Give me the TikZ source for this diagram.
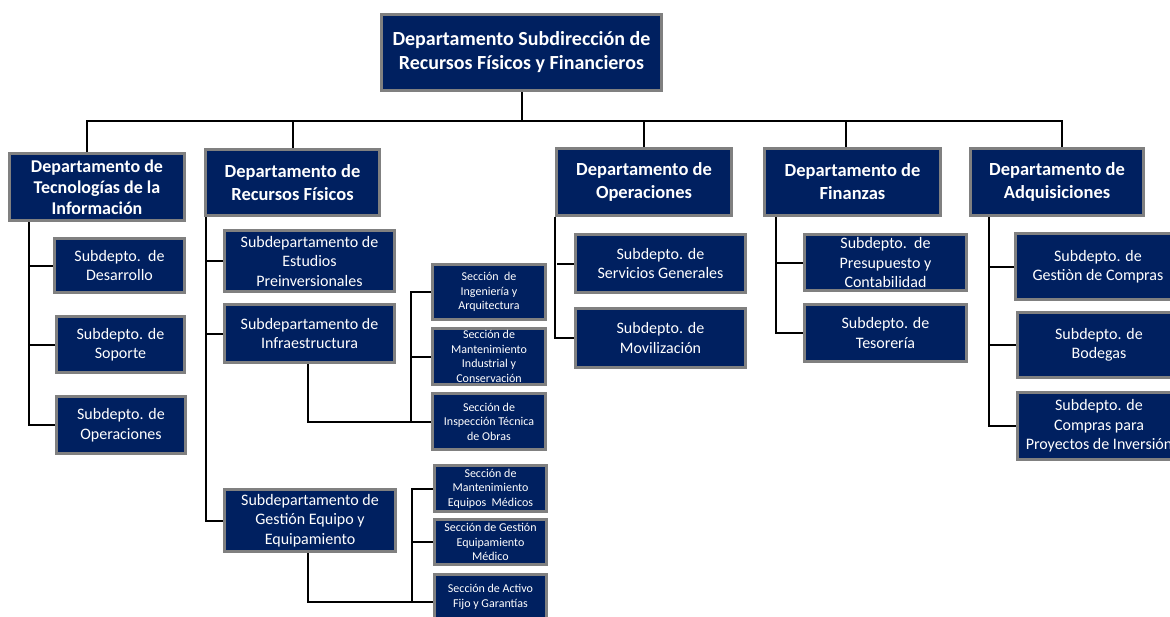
\documentclass[tikz,border=0pt]{standalone}
\usepackage{fontspec}
\setmainfont{Carlito}
\definecolor{navy}{RGB}{0,32,96}
\definecolor{bordergray}{RGB}{128,128,128}
\begin{document}
\begin{tikzpicture}[x=1pt,y=-1pt,
  box/.style={draw=bordergray, line width=3pt, fill=navy, text=white, align=center, inner sep=0pt, anchor=center},
  topf/.style={font=\fontsize{20}{24}\selectfont\bfseries},
  lonef/.style={font=\fontsize{18.5}{23}\selectfont\bfseries},
  subf/.style={font=\fontsize{16}{19.5}\selectfont},
  secf/.style={font=\fontsize{12}{14.5}\selectfont},
  conn/.style={draw=black, line width=2pt}]
\useasboundingbox (0,0) rectangle (1170,616);
% top
\node[box,topf,minimum width=280pt,minimum height=76pt] (top) at (521.5,52.5) {Departamento Subdirección de\\Recursos Físicos y Financieros};
% level 1
\node[box,font=\fontsize{18}{21}\selectfont\bfseries,minimum width=175pt,minimum height=67pt] (tec) at (97,187) {Departamento de\\Tecnologías de la\\Información};
\node[box,lonef,minimum width=174pt,minimum height=66pt] (rec) at (292.5,182.5) {Departamento de\\Recursos Físicos};
\node[box,lonef,minimum width=175pt,minimum height=67pt] (ope) at (644,182) {Departamento de\\Operaciones};
\node[box,lonef,minimum width=176pt,minimum height=67pt] (fin) at (852.5,182) {Departamento de\\Finanzas};
\node[box,lonef,minimum width=173pt,minimum height=67pt] (adq) at (1057,182) {Departamento de\\Adquisiciones};
% Tec children
\node[box,subf,minimum width=130pt,minimum height=54pt] (dev) at (119.5,265.5) {Subdepto.\ \ de\\Desarrollo};
\node[box,subf,minimum width=128pt,minimum height=56pt] (sop) at (120.5,344.5) {Subdepto. de\\Soporte};
\node[box,subf,minimum width=129pt,minimum height=57pt] (opt) at (121,425) {Subdepto. de\\Operaciones};
% Recursos children
\node[box,subf,minimum width=170pt,minimum height=61pt] (est) at (309.5,261) {Subdepartamento de\\Estudios\\Preinversionales};
\node[box,subf,minimum width=170pt,minimum height=58pt] (inf) at (309.5,333.5) {Subdepartamento de\\Infraestructura};
\node[box,subf,minimum width=171pt,minimum height=62pt] (geq) at (310,520.5) {Subdepartamento de\\Gestión Equipo y\\Equipamiento};
% Sections
\node[box,secf,minimum width=113pt,minimum height=55pt] (s1) at (489,292) {Sección\ \ de\\Ingeniería y\\Arquitectura};
\node[box,secf,minimum width=113pt,minimum height=56pt] (s2) at (489,356.5) {Sección de\\Mantenimiento\\Industrial y\\Conservación};
\node[box,secf,minimum width=113pt,minimum height=56pt] (s3) at (489,421.5) {Sección de\\Inspección Técnica\\de Obras};
\node[box,secf,minimum width=112pt,minimum height=46pt] (s4) at (490.5,488.5) {Sección de\\Mantenimiento\\Equipos\ \ Médicos};
\node[box,secf,minimum width=112pt,minimum height=45pt] (s5) at (490.5,542) {Sección de Gestión\\Equipamiento\\Médico};
\node[box,secf,minimum width=112pt,minimum height=45pt] (s6) at (490.5,597) {Sección de Activo\\Fijo y Garantías};
% Operaciones children
\node[box,subf,minimum width=170pt,minimum height=58pt] (sg) at (660.5,263.5) {Subdepto. de\\Servicios Generales};
\node[box,subf,minimum width=170pt,minimum height=59pt] (mov) at (660.5,338) {Subdepto. de\\Movilización};
% Finanzas children
\node[box,subf,minimum width=162pt,minimum height=56pt] (pre) at (885.5,262.5) {Subdepto.\ \ de\\Presupuesto y\\Contabilidad};
\node[box,subf,minimum width=162pt,minimum height=57pt] (tes) at (885.5,333) {Subdepto. de\\Tesorería};
% Adquisiciones children
\node[box,subf,minimum width=165pt,minimum height=66pt] (gc) at (1098,266.5) {Subdepto. de\\Gestiòn de Compras};
\node[box,subf,minimum width=163pt,minimum height=65pt] (bod) at (1099,345) {Subdepto. de\\Bodegas};
\node[box,subf,minimum width=163pt,minimum height=67pt] (cpp) at (1099,426) {Subdepto. de\\Compras para\\Proyectos de Inversión};
% bus
\coordinate (bus) at (521.5,121);
\draw[conn] (top.south) -- (bus);
\draw[conn] (tec.north -| 87,0) |- (bus);
\draw[conn] (adq.north -| 1062,0) |- (bus);
\draw[conn] (rec.north) -- (rec.north |- bus);
\draw[conn] (ope.north) -- (ope.north |- bus);
\draw[conn] (fin.north -| 846,0) -- (846,121);
% Tec spine
\draw[conn] ([xshift=21pt]tec.south west) |- (opt.west);
\draw[conn] (dev.west) -- (dev.west -| 29,0);
\draw[conn] (sop.west) -- (sop.west -| 29,0);
% Recursos spine
\draw[conn] ([xshift=2pt]rec.south west) |- (geq.west);
\draw[conn] (est.west) -- (est.west -| 207,0);
\draw[conn] (inf.west) -- (inf.west -| 207,0);
% Infra sections
\draw[conn] ([xshift=-1.5pt]inf.south) |- (s3.west);
\draw[conn] (s1.west) -- (s1.west -| 411,0) |- (s3.west);
\draw[conn] (s2.west) -- (s2.west -| 411,0);
% Gestion sections
\draw[conn] ([xshift=-2pt]geq.south) |- ([yshift=-5pt]s6.west);
\draw[conn] (s4.west) -- (s4.west -| 412,0) |- ([yshift=-5pt]s6.west);
\draw[conn] (s5.west) -- (s5.west -| 412,0);
% Operaciones spine
\draw[conn] ([xshift=0pt]ope.south west) |- (mov.west);
\draw[conn] (sg.west) -- (sg.west -| 556.5,0);
% Finanzas spine
\draw[conn] ([xshift=12.5pt]fin.south west) |- (tes.west);
\draw[conn] (pre.west) -- (pre.west -| 777,0);
% Adquisiciones spine
\draw[conn] ([xshift=19.5pt]adq.south west) |- (cpp.west);
\draw[conn] (gc.west) -- (gc.west -| 990,0);
\draw[conn] (bod.west) -- (bod.west -| 990,0);
\end{tikzpicture}
\end{document}
